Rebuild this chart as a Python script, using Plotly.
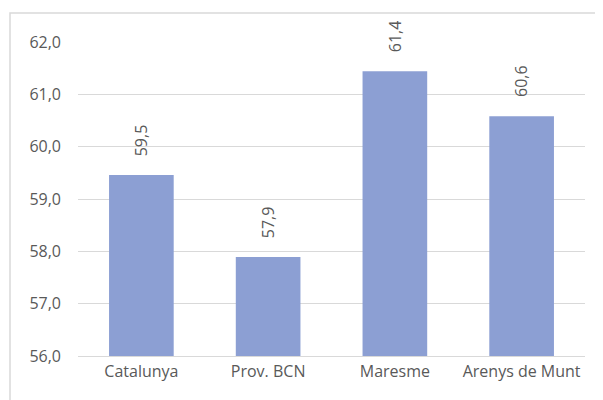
import plotly.graph_objects as go

# data
territoris = ["Catalunya", "Prov. BCN", "Maresme", "Arenys de Munt"]
valors = [59.46, 57.89, 61.44, 60.58]
etiquetes = ["59,5", "57,9", "61,4", "60,6"]
tick_vals = [56, 57, 58, 59, 60, 61, 62]

gris = "#595959"
font_fam = "Open Sans"

fig = go.Figure()
fig.add_trace(go.Bar(
    x=territoris,
    y=valors,
    marker=dict(color="#8C9FD3", line=dict(width=0)),
    hoverinfo="x+y",
))

# rotated value labels above each bar
for cat, val, lab in zip(territoris, valors, etiquetes):
    fig.add_annotation(
        x=cat, y=val, text=lab, textangle=-90,
        showarrow=False, yanchor="bottom", yshift=17,
        font=dict(family=font_fam, size=16, color=gris),
    )

# chart area border (cut off at right and bottom like the reference)
fig.add_shape(
    type="rect", xref="paper", yref="paper",
    x0=-68/507, x1=1.1, y0=-0.3, y1=1 + 29/314,
    line=dict(color="#D9D9D9", width=1.5), layer="below",
)

# page body has an 8px margin, so the figure is 8px smaller than the window
fig.update_layout(
    width=595, height=392,
    margin=dict(l=70, r=18, t=34, b=44),
    plot_bgcolor="white", paper_bgcolor="white",
    separators=",.",
    bargap=0.49,
    showlegend=False,
    font=dict(family=font_fam, size=16, color=gris),
)
fig.update_yaxes(
    range=[56, 62], tickvals=tick_vals, tickformat=".1f",
    showgrid=True, gridcolor="#D9D9D9", gridwidth=1,
    zeroline=False, showline=False, ticklabelstandoff=16,
)
fig.update_xaxes(showline=True, linecolor="#D9D9D9", linewidth=1, ticklabelstandoff=1)

fig.write_html("out.html")
